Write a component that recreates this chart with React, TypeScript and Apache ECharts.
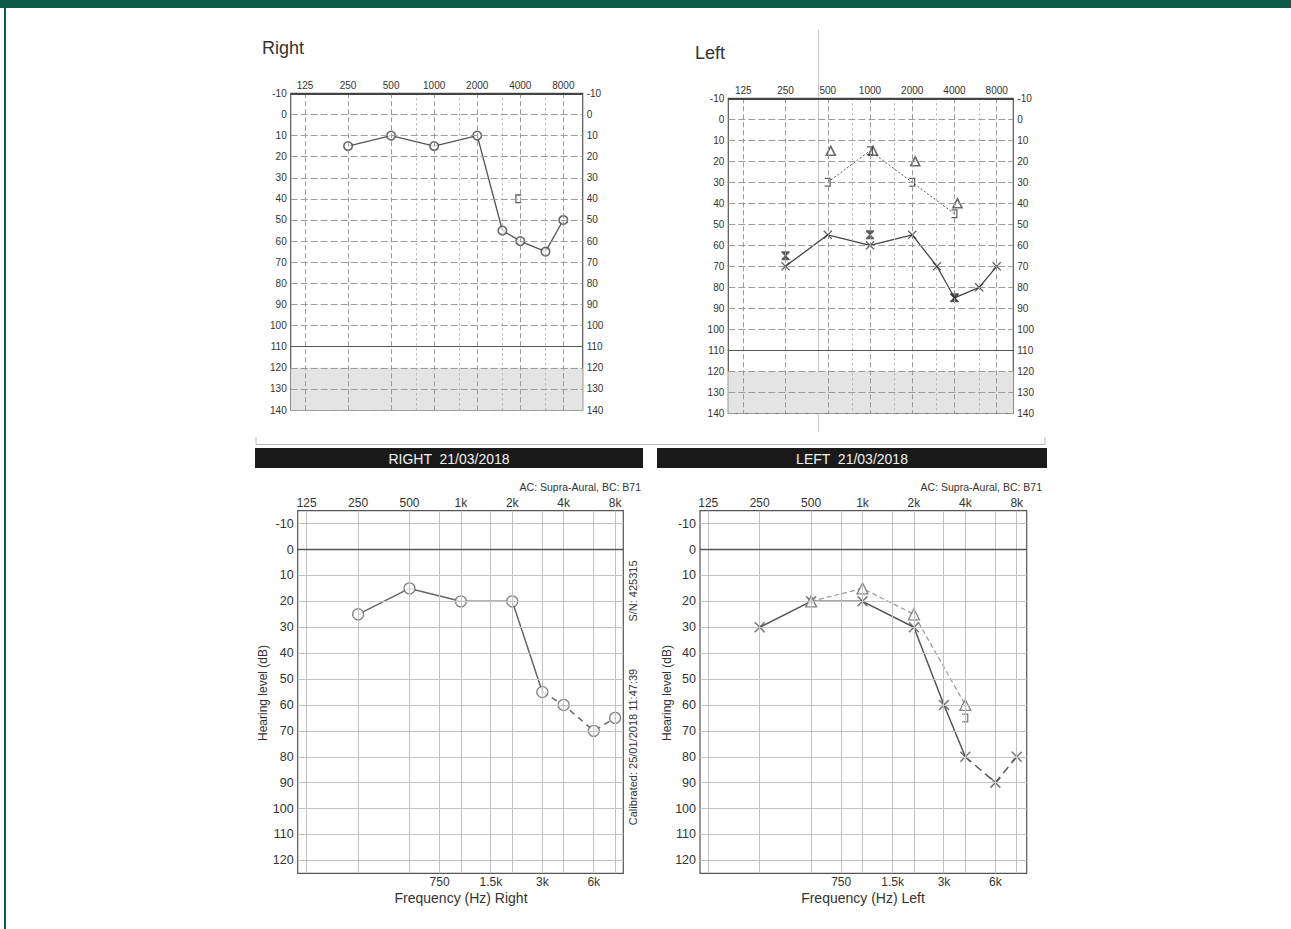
import React, { useEffect, useRef } from 'react';
import * as echarts from 'echarts';

// ---------- axis definitions ----------
const OCTAVE_FREQS = [125, 250, 500, 1000, 2000, 4000, 8000];
const HALF_OCTAVE_FREQS = [750, 1500, 3000, 6000];
const TOP_FREQ_LABELS = ['125', '250', '500', '1000', '2000', '4000', '8000'];
const BOTTOM_FREQ_LABELS = ['125', '250', '500', '1k', '2k', '4k', '8k'];
const BOTTOM_HALF_LABELS = ['750', '1.5k', '3k', '6k'];
const TOP_DB_TICKS = [-10, 0, 10, 20, 30, 40, 50, 60, 70, 80, 90, 100, 110, 120, 130, 140];
const BOTTOM_DB_TICKS = [-10, 0, 10, 20, 30, 40, 50, 60, 70, 80, 90, 100, 110, 120];

// ---------- data ----------
const TEST_FREQS = [250, 500, 1000, 2000, 3000, 4000, 6000, 8000];

// top "Right" audiogram
const rightTopAC = [15, 10, 15, 10, 55, 60, 65, 50];
const rightTopBCMaskedFreqs = [4000];
const rightTopBCMasked = [40];

// top "Left" audiogram
const leftTopAC = [70, 55, 60, 55, 70, 85, 80, 70];
const leftTopACMaskedFreqs = [250, 1000, 4000];
const leftTopACMasked = [65, 55, 85];
const leftTopBCFreqs = [500, 1000, 2000, 4000];
const leftTopBC = [15, 15, 20, 40];
const leftTopBCMasked = [30, 15, 30, 45];

// bottom RIGHT 21/03/2018
const rightBottomAC = [25, 15, 20, 20, 55, 60, 70, 65];
const rightBottomSolidUntil = 4; // index of 3k
// bottom LEFT 21/03/2018
const leftBottomAC = [30, 20, 20, 30, 60, 80, 90, 80];
const leftBottomSolidUntil = 5; // index of 4k
const leftBottomBCFreqs = [500, 1000, 2000, 4000];
const leftBottomBC = [20, 15, 25, 60];
const leftBottomBCMaskedFreqs = [4000];
const leftBottomBCMasked = [65];

// ---------- helpers ----------
const oct = (f: number) => Math.log2(f / 125);
const pairs = (fs: number[], vs: number[]) => fs.map((f, i) => [oct(f), vs[i]]);
const OCT_POS = OCTAVE_FREQS.map(oct);
const HALF_POS = HALF_OCTAVE_FREQS.map(oct);
const labelAt = (positions: number[], labels: string[]) => (v: number) => {
  for (let i = 0; i < positions.length; i++) if (Math.abs(positions[i] - v) < 0.01) return labels[i];
  return '';
};

const X_PATH = 'path://M0,1L1,0L5,4L9,0L10,1L6,5L10,9L9,10L5,6L1,10L0,9L4,5Z';
const HOURGLASS_PATH = 'path://M0,0H10V1.5L6,5L10,8.5V10H0V8.5L4,5L0,1.5Z';
const RBRACKET_PATH = 'path://M0,0H7V10H0V8.6H5.6V1.4H0Z';
const LBRACKET_PATH = 'path://M7,0H0V10H7V8.6H1.4V1.4H7Z';

const FONT = 'Liberation Sans, Arial, sans-serif';

function buildOption() {
  const grids = [
    { left: 290.7, top: 93.3, width: 292, height: 316.7 }, // top right-ear
    { left: 728.3, top: 98.3, width: 285, height: 315 }, // top left-ear
    { left: 297.7, top: 510.7, width: 325.6, height: 362.6 }, // bottom right
    { left: 700, top: 510.7, width: 326.7, height: 362.6 }, // bottom left
  ].map((g) => ({
    ...g,
    show: true,
    backgroundColor: 'transparent',
    borderColor: '#555',
    borderWidth: 1.2,
    containLabel: false,
    outerBoundsMode: 'none',
  }));

  const topX = (gridIndex: number, min: number, max: number) => ({
    type: 'value', gridIndex, position: 'top', min, max,
    axisLine: { show: false }, axisTick: { show: false }, splitLine: { show: false },
    axisLabel: {
      customValues: OCT_POS, formatter: labelAt(OCT_POS, TOP_FREQ_LABELS),
      fontSize: 10, color: '#333', fontFamily: FONT, margin: 3,
    },
  });
  const bottomTopX = (gridIndex: number, min: number, max: number) => ({
    type: 'value', gridIndex, position: 'top', min, max,
    axisLine: { show: false }, axisTick: { show: false }, splitLine: { show: false },
    axisLabel: {
      customValues: OCT_POS, formatter: labelAt(OCT_POS, BOTTOM_FREQ_LABELS),
      fontSize: 12, color: '#333', fontFamily: FONT, margin: 2,
    },
  });
  const bottomBottomX = (gridIndex: number, min: number, max: number) => ({
    type: 'value', gridIndex, position: 'bottom', min, max,
    axisLine: { show: false }, axisTick: { show: false }, splitLine: { show: false },
    axisLabel: {
      customValues: HALF_POS, formatter: labelAt(HALF_POS, BOTTOM_HALF_LABELS),
      fontSize: 12, color: '#333', fontFamily: FONT, margin: 3,
    },
  });

  const topY = (gridIndex: number, position: string) => ({
    type: 'value', gridIndex, position, inverse: true, min: -10, max: 140, interval: 10,
    axisLine: { show: false }, axisTick: { show: false }, splitLine: { show: false },
    axisLabel: { fontSize: 10, color: '#333', fontFamily: FONT, margin: 4 },
  });
  const bottomY = (gridIndex: number) => ({
    type: 'value', gridIndex, position: 'left', inverse: true, min: -15, max: 125, interval: 5,
    axisLine: { show: false }, axisTick: { show: false }, splitLine: { show: false },
    axisLabel: {
      fontSize: 12.5, color: '#333', fontFamily: FONT, margin: 4,
      formatter: (v: number) => (BOTTOM_DB_TICKS.indexOf(v) >= 0 ? String(v) : ''),
    },
  });

  const xAxis = [
    topX(0, -0.332, 6.45),
    topX(1, -0.355, 6.393),
    bottomTopX(2, -0.175, 6.16),
    bottomBottomX(2, -0.175, 6.16),
    bottomTopX(3, -0.161, 6.194),
    bottomBottomX(3, -0.161, 6.194),
  ];
  const yAxis = [
    topY(0, 'left'), topY(0, 'right'),
    topY(1, 'left'), topY(1, 'right'),
    bottomY(2), bottomY(3),
  ];

  const mlBase = { silent: true, symbol: ['none', 'none'], label: { show: false }, animation: false };

  const topGridSeries = (xi: number, yi: number) => ({
    type: 'line', xAxisIndex: xi, yAxisIndex: yi, data: [], z: 1, silent: true,
    markArea: {
      silent: true, itemStyle: { color: '#e4e4e4' },
      data: [[{ yAxis: 120 }, { yAxis: 140 }]],
    },
    markLine: {
      ...mlBase,
      data: [
        ...OCT_POS.map((v) => ({ xAxis: v, lineStyle: { color: '#999', width: 1, type: [5, 3] } })),
        ...HALF_POS.map((v) => ({ xAxis: v, lineStyle: { color: '#b0b0b0', width: 1, type: [2, 3] } })),
        ...TOP_DB_TICKS.filter((v) => v !== -10 && v !== 110).map((v) => ({
          yAxis: v, lineStyle: { color: '#9c9c9c', width: 1, type: [7, 3] },
        })),
        { yAxis: 110, lineStyle: { color: '#555', width: 1.2, type: 'solid' } },
        { yAxis: -10, lineStyle: { color: '#444', width: 2, type: 'solid' } },
      ],
    },
  });

  const bottomGridSeries = (xi: number, yi: number) => ({
    type: 'line', xAxisIndex: xi, yAxisIndex: yi, data: [], z: 1, silent: true,
    markLine: {
      ...mlBase,
      data: [
        ...OCT_POS.map((v) => ({ xAxis: v, lineStyle: { color: '#c2c2c2', width: 1, type: 'solid' } })),
        ...HALF_POS.map((v) => ({ xAxis: v, lineStyle: { color: '#c2c2c2', width: 1, type: 'solid' } })),
        ...BOTTOM_DB_TICKS.filter((v) => v !== 0).map((v) => ({
          yAxis: v, lineStyle: { color: '#c2c2c2', width: 1, type: 'solid' },
        })),
        { yAxis: 0, lineStyle: { color: '#555', width: 1.3, type: 'solid' } },
      ],
    },
  });

  const lineSeries = (xi: number, yi: number, data: number[][], color: string, width: number, type: any) => ({
    type: 'line', xAxisIndex: xi, yAxisIndex: yi, data, z: 2, showSymbol: false, symbol: 'none',
    lineStyle: { color, width, type }, silent: true,
  });
  const symbolSeries = (xi: number, yi: number, data: number[][], symbol: string, size: any, style: any, offset?: number[]) => ({
    type: 'scatter', xAxisIndex: xi, yAxisIndex: yi, data, z: 3, symbol, symbolSize: size,
    symbolOffset: offset || [0, 0], itemStyle: style, silent: true,
  });

  const hollowTop = { color: '#fff', borderColor: '#444', borderWidth: 1.6 };
  const hollowBottom = { color: '#fff', borderColor: '#666', borderWidth: 1.3 };
  const solidTop = { color: '#333', borderWidth: 0 };
  const solidBottom = { color: '#555', borderWidth: 0 };

  const rtAC = pairs(TEST_FREQS, rightTopAC);
  const ltAC = pairs(TEST_FREQS, leftTopAC);
  const rbAC = pairs(TEST_FREQS, rightBottomAC);
  const lbAC = pairs(TEST_FREQS, leftBottomAC);

  const series = [
    // top right
    topGridSeries(0, 0),
    lineSeries(0, 0, rtAC, '#555', 1.3, 'solid'),
    symbolSeries(0, 0, rtAC, 'circle', 8.5, hollowTop),
    symbolSeries(0, 0, pairs(rightTopBCMaskedFreqs, rightTopBCMasked), LBRACKET_PATH, [6, 9], solidTop, [-2, 0]),
    // top left
    topGridSeries(1, 2),
    lineSeries(1, 2, ltAC, '#444', 1.3, 'solid'),
    lineSeries(1, 2, pairs(leftTopBCFreqs, leftTopBCMasked), '#555', 1, [2, 2]),
    symbolSeries(1, 2, ltAC, X_PATH, 9, solidTop),
    symbolSeries(1, 2, pairs(leftTopACMaskedFreqs, leftTopACMasked), HOURGLASS_PATH, [8, 9], solidTop),
    symbolSeries(1, 2, pairs(leftTopBCFreqs, leftTopBC), 'triangle', 9, hollowTop, [3, 0]),
    symbolSeries(1, 2, pairs(leftTopBCFreqs, leftTopBCMasked), RBRACKET_PATH, [6, 9], solidTop),
    // bottom right
    bottomGridSeries(2, 4),
    lineSeries(2, 4, rbAC.slice(0, rightBottomSolidUntil + 1), '#666', 1.5, 'solid'),
    lineSeries(2, 4, rbAC.slice(rightBottomSolidUntil), '#666', 1.5, [6, 5]),
    symbolSeries(2, 4, rbAC, 'circle', 11, hollowBottom),
    // bottom left
    bottomGridSeries(4, 5),
    lineSeries(4, 5, lbAC.slice(0, leftBottomSolidUntil + 1), '#555', 1.5, 'solid'),
    lineSeries(4, 5, lbAC.slice(leftBottomSolidUntil), '#555', 1.5, [8, 5]),
    lineSeries(4, 5, pairs(leftBottomBCFreqs, leftBottomBC), '#999', 1.2, [5, 3]),
    symbolSeries(4, 5, lbAC, X_PATH, 11, solidBottom),
    symbolSeries(4, 5, pairs(leftBottomBCFreqs, leftBottomBC), 'triangle', 11, hollowBottom),
    symbolSeries(4, 5, pairs(leftBottomBCMaskedFreqs, leftBottomBCMasked), RBRACKET_PATH, [6, 9], solidBottom),
  ];

  const text = (t: string, x: number, y: number, size: number, opts: any = {}) => ({
    type: 'text', x, y, rotation: opts.rotation || 0, z: 10, silent: true,
    style: {
      text: t, fill: opts.fill || '#333', fontSize: size, fontFamily: FONT,
      fontWeight: opts.weight || 'normal',
      align: opts.align || 'left', verticalAlign: 'middle',
    },
  });

  const graphic = [
    // green frame
    { type: 'rect', shape: { x: 0, y: 0, width: 1291, height: 8 }, style: { fill: '#0f5a47' }, silent: true },
    { type: 'rect', shape: { x: 4, y: 0, width: 2, height: 929 }, style: { fill: '#0f5a47' }, silent: true },
    // scan artefacts
    { type: 'line', shape: { x1: 818.5, y1: 30, x2: 818.5, y2: 432 }, style: { stroke: '#c8c8c8', lineWidth: 1 }, silent: true },
    { type: 'polyline', shape: { points: [[256, 437], [256, 444.5], [1045, 444.5], [1045, 437]] }, style: { stroke: '#b8b8b8', lineWidth: 1, fill: 'none' }, silent: true },
    // top titles
    text('Right', 262, 48, 18, { fill: '#333' }),
    text('Left', 695, 53, 18, { fill: '#333' }),
    // black header bars
    { type: 'rect', shape: { x: 255, y: 448, width: 388, height: 20 }, style: { fill: '#1a1a1a' }, silent: true },
    { type: 'rect', shape: { x: 657, y: 448, width: 390, height: 20 }, style: { fill: '#1a1a1a' }, silent: true },
    text('RIGHT  21/03/2018', 449, 459, 14, { fill: '#f2f2f2', align: 'center' }),
    text('LEFT  21/03/2018', 852, 459, 14, { fill: '#f2f2f2', align: 'center' }),
    text('AC: Supra-Aural, BC: B71', 641, 486.5, 10.5, { align: 'right' }),
    text('AC: Supra-Aural, BC: B71', 1042, 486.5, 10.5, { align: 'right' }),
    text('Frequency (Hz) Right', 461, 898, 14, { align: 'center' }),
    text('Frequency (Hz) Left', 863, 898, 14, { align: 'center' }),
    text('Hearing level (dB)', 263, 693, 12, { align: 'center', rotation: Math.PI / 2 }),
    text('Hearing level (dB)', 667, 693, 12, { align: 'center', rotation: Math.PI / 2 }),
    text('S/N: 425315', 633, 591, 11, { align: 'center', rotation: Math.PI / 2 }),
    text('Calibrated: 25/01/2018 11:47:39', 633, 747, 11, { align: 'center', rotation: Math.PI / 2 }),
  ];

  return {
    animation: false,
    backgroundColor: '#ffffff',
    grid: grids,
    xAxis,
    yAxis,
    series,
    graphic,
  };
}

export default function App() {
  const ref = useRef<HTMLDivElement>(null);
  useEffect(() => {
    if (!ref.current) return;
    const chart = echarts.init(ref.current, null, { renderer: 'svg' });
    chart.setOption(buildOption() as any);
    return () => chart.dispose();
  }, []);
  return (
    <div
      ref={ref}
      style={{ position: 'fixed', left: 0, top: 0, width: 1291, height: 929, background: '#fff' }}
    />
  );
}
